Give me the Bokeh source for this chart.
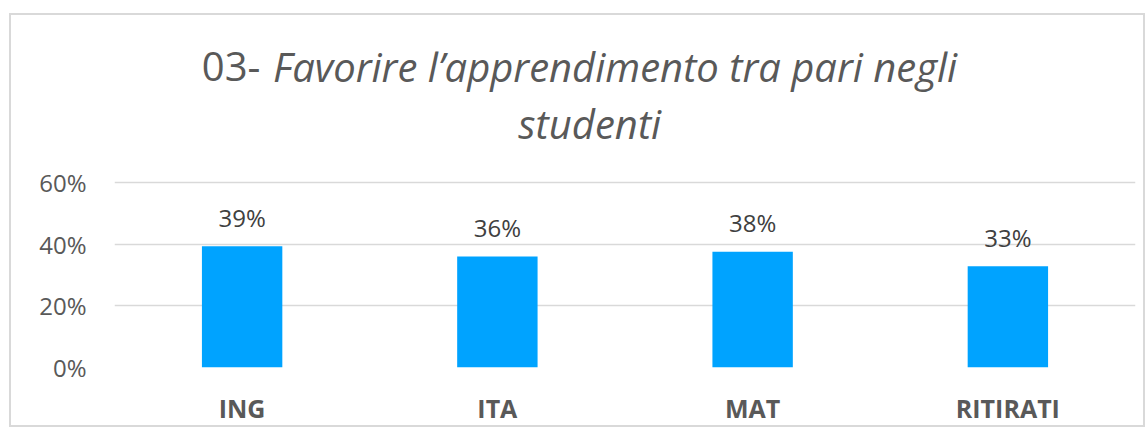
from bokeh.plotting import figure
from bokeh.models import ColumnDataSource, Range1d, FactorRange, NumeralTickFormatter, Label, FixedTicker
from bokeh.core.properties import value
from bokeh.embed import file_html
from bokeh.resources import INLINE

categories = ["ING", "ITA", "MAT", "RITIRATI"]
values = [0.393, 0.36, 0.375, 0.328]
value_labels = ["39%", "36%", "38%", "33%"]
y_ticks = [0, 0.2, 0.4, 0.6]
title_prefix = "03-"
title_line1 = "Favorire l\u2019apprendimento tra pari negli"
title_line2 = "studenti"

FONT = "Open Sans"
TXT = "#595959"

src = ColumnDataSource(dict(cat=categories, val=values, lab=value_labels))

# frame spans from canvas top down to the 0% line; only 0..60% are ticked
p = figure(x_range=FactorRange(factors=categories, range_padding=0),
           y_range=Range1d(0, 1.141),
           width=1136, height=414, output_backend="svg", toolbar_location=None,
           min_border_left=103, min_border_right=12, min_border_top=0, min_border_bottom=62)
p.styles = {"border": "2px solid #d9d9d9", "margin-top": "13px", "margin-left": "9px"}
p.outline_line_color = None
p.background_fill_color = "white"
p.border_fill_color = "white"

p.vbar(x="cat", top="val", width=0.315, source=src, color="#00A3FF", line_color=None)
p.text(x="cat", y="val", text="lab", source=src, text_align="center", text_baseline="alphabetic",
       y_offset=-29, text_font=value(FONT), text_font_size="24px", text_color="#404040")

p.xgrid.grid_line_color = None
p.ygrid.grid_line_color = "#d9d9d9"
p.ygrid.grid_line_width = 1.5
p.yaxis.ticker = FixedTicker(ticks=y_ticks)
p.yaxis.formatter = NumeralTickFormatter(format="0%")
for ax in (p.xaxis[0], p.yaxis[0]):
    ax.axis_line_color = None
    ax.major_tick_line_color = None
    ax.minor_tick_line_color = None
    ax.major_label_text_color = TXT
    ax.major_label_text_font = FONT
p.yaxis.major_label_text_font_size = "24px"
p.yaxis.major_label_standoff = 22
p.xaxis.major_label_text_font_size = "25px"
p.xaxis.major_label_text_font_style = "bold"
p.xaxis.major_label_standoff = 17

p.add_layout(Label(x=0.342, y=0.975, text=title_prefix, text_font=FONT, text_font_size="40px",
                   text_color=TXT, text_align="left", text_baseline="alphabetic"))
p.add_layout(Label(x=0.621, y=0.975, text=title_line1, text_font=FONT, text_font_size="40px",
                   text_font_style="italic", text_color=TXT, text_align="left", text_baseline="alphabetic"))
p.add_layout(Label(x=1.862, y=0.792, text=title_line2, text_font=FONT, text_font_size="40px",
                   text_font_style="italic", text_color=TXT, text_align="center", text_baseline="alphabetic"))

open("out.html", "w").write(file_html(p, INLINE))
